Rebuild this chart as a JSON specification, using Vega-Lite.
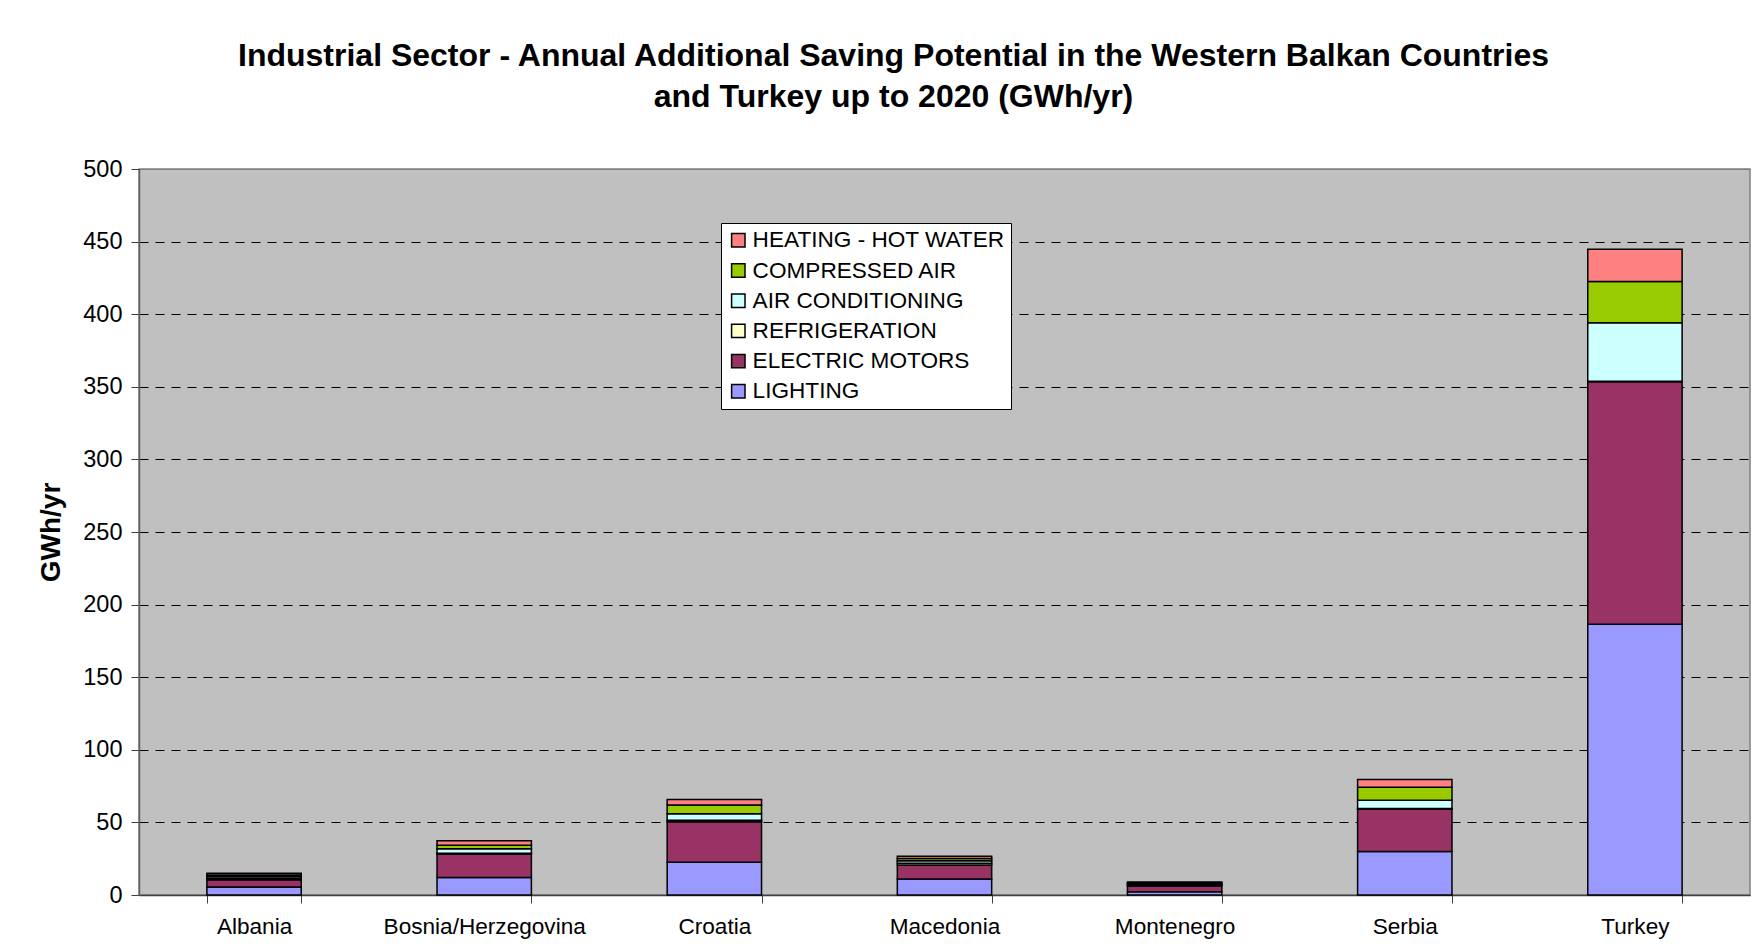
{
  "$schema": "https://vega.github.io/schema/vega-lite/v6.json",
  "autosize": "none",
  "width": 1611,
  "height": 726,
  "padding": {"left": 139, "top": 169, "right": 8, "bottom": 52},
  "background": "white",
  "title": {
    "text": ["Industrial Sector - Annual Additional Saving Potential in the Western Balkan Countries", "and Turkey up to 2020 (GWh/yr)"],
    "font": "Liberation Sans",
    "fontSize": 32,
    "fontWeight": "bold",
    "color": "#000000",
    "anchor": "middle",
    "dx": -51,
    "offset": 43,
    "lineHeight": 41.5
  },
  "data": {
    "values": [
      {"country": "Albania", "category": "LIGHTING", "stack": 1, "gwh": 5.5},
      {"country": "Albania", "category": "ELECTRIC MOTORS", "stack": 2, "gwh": 5.0},
      {"country": "Albania", "category": "REFRIGERATION", "stack": 3, "gwh": 1.0},
      {"country": "Albania", "category": "AIR CONDITIONING", "stack": 4, "gwh": 1.2},
      {"country": "Albania", "category": "COMPRESSED AIR", "stack": 5, "gwh": 1.1},
      {"country": "Albania", "category": "HEATING - HOT WATER", "stack": 6, "gwh": 1.1},

      {"country": "Bosnia/Herzegovina", "category": "LIGHTING", "stack": 1, "gwh": 12.0},
      {"country": "Bosnia/Herzegovina", "category": "ELECTRIC MOTORS", "stack": 2, "gwh": 16.0},
      {"country": "Bosnia/Herzegovina", "category": "REFRIGERATION", "stack": 3, "gwh": 0.8},
      {"country": "Bosnia/Herzegovina", "category": "AIR CONDITIONING", "stack": 4, "gwh": 3.0},
      {"country": "Bosnia/Herzegovina", "category": "COMPRESSED AIR", "stack": 5, "gwh": 2.5},
      {"country": "Bosnia/Herzegovina", "category": "HEATING - HOT WATER", "stack": 6, "gwh": 3.0},

      {"country": "Croatia", "category": "LIGHTING", "stack": 1, "gwh": 22.5},
      {"country": "Croatia", "category": "ELECTRIC MOTORS", "stack": 2, "gwh": 28.0},
      {"country": "Croatia", "category": "REFRIGERATION", "stack": 3, "gwh": 1.0},
      {"country": "Croatia", "category": "AIR CONDITIONING", "stack": 4, "gwh": 4.5},
      {"country": "Croatia", "category": "COMPRESSED AIR", "stack": 5, "gwh": 6.0},
      {"country": "Croatia", "category": "HEATING - HOT WATER", "stack": 6, "gwh": 3.7},

      {"country": "Macedonia", "category": "LIGHTING", "stack": 1, "gwh": 11.0},
      {"country": "Macedonia", "category": "ELECTRIC MOTORS", "stack": 2, "gwh": 9.6},
      {"country": "Macedonia", "category": "REFRIGERATION", "stack": 3, "gwh": 1.2},
      {"country": "Macedonia", "category": "AIR CONDITIONING", "stack": 4, "gwh": 1.8},
      {"country": "Macedonia", "category": "COMPRESSED AIR", "stack": 5, "gwh": 1.5},
      {"country": "Macedonia", "category": "HEATING - HOT WATER", "stack": 6, "gwh": 1.6},

      {"country": "Montenegro", "category": "LIGHTING", "stack": 1, "gwh": 2.3},
      {"country": "Montenegro", "category": "ELECTRIC MOTORS", "stack": 2, "gwh": 3.9},
      {"country": "Montenegro", "category": "REFRIGERATION", "stack": 3, "gwh": 0.5},
      {"country": "Montenegro", "category": "AIR CONDITIONING", "stack": 4, "gwh": 1.0},
      {"country": "Montenegro", "category": "COMPRESSED AIR", "stack": 5, "gwh": 0.6},
      {"country": "Montenegro", "category": "HEATING - HOT WATER", "stack": 6, "gwh": 0.6},

      {"country": "Serbia", "category": "LIGHTING", "stack": 1, "gwh": 30.0},
      {"country": "Serbia", "category": "ELECTRIC MOTORS", "stack": 2, "gwh": 29.0},
      {"country": "Serbia", "category": "REFRIGERATION", "stack": 3, "gwh": 0.5},
      {"country": "Serbia", "category": "AIR CONDITIONING", "stack": 4, "gwh": 5.7},
      {"country": "Serbia", "category": "COMPRESSED AIR", "stack": 5, "gwh": 9.0},
      {"country": "Serbia", "category": "HEATING - HOT WATER", "stack": 6, "gwh": 5.3},

      {"country": "Turkey", "category": "LIGHTING", "stack": 1, "gwh": 186.5},
      {"country": "Turkey", "category": "ELECTRIC MOTORS", "stack": 2, "gwh": 167.0},
      {"country": "Turkey", "category": "REFRIGERATION", "stack": 3, "gwh": 0.4},
      {"country": "Turkey", "category": "AIR CONDITIONING", "stack": 4, "gwh": 40.2},
      {"country": "Turkey", "category": "COMPRESSED AIR", "stack": 5, "gwh": 28.5},
      {"country": "Turkey", "category": "HEATING - HOT WATER", "stack": 6, "gwh": 22.2}
    ]
  },
  "mark": {"type": "bar", "stroke": "#000000", "strokeWidth": 1.5},
  "encoding": {
    "x": {
      "field": "country",
      "type": "nominal",
      "sort": null,
      "scale": {"paddingInner": 0.59, "paddingOuter": 0.295},
      "axis": {
        "title": null,
        "labelAngle": 0,
        "labelFont": "Liberation Sans",
        "labelFontSize": 22.6,
        "labelColor": "#000000",
        "labelPadding": 12,
        "labelLimit": 400,
        "tickBand": "extent",
        "tickSize": 8,
        "tickColor": "#404040",
        "domainColor": "#404040",
        "domainWidth": 1.5,
        "grid": false
      }
    },
    "y": {
      "field": "gwh",
      "type": "quantitative",
      "stack": "zero",
      "scale": {"domain": [0, 500], "nice": false},
      "axis": {
        "title": "GWh/yr",
        "titleFont": "Liberation Sans",
        "titleFontSize": 28,
        "titleFontWeight": "bold",
        "titleColor": "#000000",
        "titlePadding": 17,
        "values": [0, 50, 100, 150, 200, 250, 300, 350, 400, 450, 500],
        "labelFont": "Liberation Sans",
        "labelFontSize": 23.5,
        "labelColor": "#000000",
        "labelPadding": 9,
        "tickSize": 8,
        "tickColor": "#404040",
        "domainColor": "#606060",
        "domainWidth": 1.5,
        "grid": true,
        "gridColor": {"condition": {"test": "datum.value === 500 || datum.value === 0", "value": "#808080"}, "value": "#000000"},
        "gridDash": {"condition": {"test": "datum.value === 500 || datum.value === 0", "value": []}, "value": [9, 7]},
        "gridWidth": 1
      }
    },
    "color": {
      "field": "category",
      "type": "nominal",
      "scale": {
        "domain": ["HEATING - HOT WATER", "COMPRESSED AIR", "AIR CONDITIONING", "REFRIGERATION", "ELECTRIC MOTORS", "LIGHTING"],
        "range": ["#FF8080", "#99CC00", "#CCFFFF", "#FFFFCC", "#993366", "#9999FF"]
      },
      "legend": {
        "title": null,
        "orient": "none",
        "legendX": 582,
        "legendY": 54,
        "direction": "vertical",
        "fillColor": "#FFFFFF",
        "strokeColor": "#000000",
        "padding": 6,
        "rowPadding": 7.2,
        "symbolType": "square",
        "symbolSize": 180,
        "symbolStrokeColor": "#000000",
        "symbolStrokeWidth": 1.5,
        "symbolOpacity": 1,
        "labelFont": "Liberation Sans",
        "labelFontSize": 22.6,
        "labelColor": "#000000",
        "labelOffset": 3,
        "labelLimit": 400
      }
    },
    "order": {"field": "stack", "type": "quantitative", "sort": "ascending"}
  },
  "config": {
    "view": {"fill": "#C0C0C0", "stroke": "#808080", "strokeWidth": 1.5},
    "axis": {"gridOpacity": 1}
  }
}
